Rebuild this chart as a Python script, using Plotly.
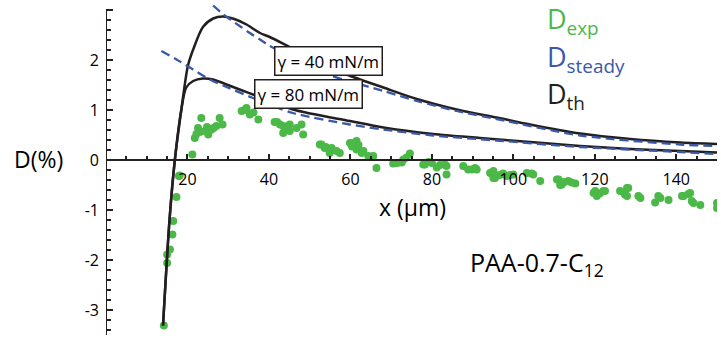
import plotly.graph_objects as go

# ---- data ----
th40_x = [14.0, 15.6, 16.9, 18.5, 20.1, 21.4, 23.8, 26.3, 28.7, 31.5, 34.5, 37.8, 40.2, 45.1, 52.0, 59.1, 68.1, 76.3, 86.1, 95.9, 104.1, 116.4, 128.7, 141.0, 150.0]
th40_y = [-3.31, -1.19, 0.0, 1.01, 1.88, 2.21, 2.66, 2.83, 2.87, 2.82, 2.71, 2.54, 2.46, 2.26, 1.98, 1.71, 1.45, 1.22, 1.01, 0.85, 0.71, 0.53, 0.42, 0.35, 0.32]

th80_x = [14.0, 15.6, 16.9, 18.5, 19.7, 21.4, 23.8, 26.3, 29.6, 32.8, 36.1, 45.9, 59.9, 68.1, 80.3, 91.8, 104.1, 116.4, 128.7, 141.0, 150.0]
th80_y = [-3.31, -1.19, 0.0, 1.01, 1.45, 1.58, 1.63, 1.61, 1.51, 1.41, 1.31, 1.01, 0.78, 0.65, 0.52, 0.44, 0.36, 0.28, 0.22, 0.18, 0.15]

st40_x = [26.3, 28.7, 32.8, 35.3, 37.8, 40.2, 54.2, 59.9, 68.1, 76.3, 86.1, 95.9, 116.4, 141.0, 150.0]
st40_y = [3.09, 2.92, 2.68, 2.54, 2.41, 2.28, 1.72, 1.57, 1.38, 1.18, 0.98, 0.82, 0.49, 0.31, 0.28]

st80_x = [13.6, 17.3, 21.4, 25.5, 29.6, 36.1, 45.9, 59.9, 68.1, 80.3, 95.9, 116.4, 141.0, 150.0]
st80_y = [2.18, 2.01, 1.81, 1.61, 1.46, 1.24, 0.94, 0.71, 0.61, 0.49, 0.39, 0.26, 0.16, 0.12]

exp_x = [14.2, 15.0, 15.0, 15.7, 16.3, 16.5, 17.3, 17.9, 18.1,
         21.2, 21.8, 22.6, 23.4, 24.3, 25.1, 25.9, 27.1, 27.9, 28.6, 22.2, 24.8, 26.4, 23.0, 25.5,
         33.3, 34.5, 35.3, 37.4, 34.0, 36.2,
         41.4, 42.7, 43.9, 45.1, 43.5, 46.8, 48.4, 48.0, 43.5, 45.1, 42.0, 44.3,
         52.5, 52.9, 53.7, 55.4, 54.9, 57.4, 55.0, 56.6, 54.0,
         59.9, 60.7, 61.5, 61.5, 62.8, 63.2, 64.4, 65.6, 66.4, 60.4, 62.0,
         70.5, 72.6, 73.0, 74.6, 71.5, 73.8,
         77.9, 78.3, 80.0, 81.2, 83.2, 83.6, 83.6, 79.2, 82.0,
         87.7, 88.9, 89.8, 90.6, 91.0,
         94.3, 95.1, 95.1, 95.5, 96.7, 98.4, 100.0, 97.5, 99.2,
         103.3, 104.5, 104.9, 106.6,
         110.7, 111.1, 111.5, 111.9, 113.5, 115.2, 112.5, 114.3,
         119.7, 120.1, 120.5, 122.1, 122.5, 121.2,
         126.2, 127.4, 127.9, 128.2, 127.9, 130.7, 131.2,
         134.8, 135.6, 136.1, 138.1,
         141.4, 141.8, 143.0, 143.4, 143.8, 144.2, 145.9, 150.0, 150.0]
exp_y = [-3.31, -2.06, -1.89, -1.79, -1.49, -1.22, -0.74, -0.32, -0.31,
         0.11, 0.44, 0.64, 0.84, 0.58, 0.51, 0.61, 0.68, 0.84, 0.71, 0.52, 0.66, 0.64, 0.56, 0.60,
         0.98, 1.04, 0.91, 0.81, 1.00, 0.95,
         0.76, 0.71, 0.64, 0.71, 0.54, 0.64, 0.51, 0.71, 0.68, 0.58, 0.76, 0.62,
         0.31, 0.31, 0.24, 0.24, 0.14, 0.14, 0.21, 0.18, 0.26,
         0.34, 0.34, 0.21, 0.38, 0.14, 0.18, 0.08, 0.08, -0.16, 0.27, 0.30,
         -0.07, -0.05, 0.01, 0.13, -0.06, 0.05,
         -0.09, -0.09, -0.06, -0.15, -0.09, -0.29, -0.12, -0.04, -0.10,
         -0.12, -0.19, -0.19, -0.16, -0.19,
         -0.26, -0.36, -0.22, -0.36, -0.30, -0.32, -0.29, -0.27, -0.30,
         -0.26, -0.27, -0.29, -0.42,
         -0.39, -0.39, -0.50, -0.49, -0.42, -0.47, -0.44, -0.45,
         -0.66, -0.62, -0.72, -0.62, -0.62, -0.67,
         -0.62, -0.69, -0.56, -0.56, -0.72, -0.72, -0.76,
         -0.85, -0.72, -0.76, -0.80,
         -0.72, -0.72, -0.68, -0.66, -0.82, -0.86, -0.90, -0.86, -0.96]

x_tick_step = 20
x_minor_step = 5
y_tick_step = 1
y_minor_step = 0.2

GREEN = "#4bb848"
BLUE = "#3a58a8"
BLACK = "#231f20"
FONT = "Open Sans"

fig = go.Figure()

fig.add_trace(go.Scatter(x=exp_x, y=exp_y, mode="markers",
                         marker=dict(color=GREEN, size=8, line=dict(width=0)),
                         showlegend=False))
for xs, ys in [(th40_x, th40_y), (th80_x, th80_y)]:
    fig.add_trace(go.Scatter(x=xs, y=ys, mode="lines",
                             line=dict(color=BLACK, width=2.5, shape="spline", smoothing=0.8),
                             showlegend=False))
for xs, ys in [(st40_x, st40_y), (st80_x, st80_y)]:
    fig.add_trace(go.Scatter(x=xs, y=ys, mode="lines",
                             line=dict(color=BLUE, width=2.3, dash="9px,5px", shape="spline", smoothing=0.8),
                             showlegend=False))

fig.update_layout(
    width=721, height=343,
    margin=dict(l=106, r=4, t=5, b=8, autoexpand=False),
    paper_bgcolor="white", plot_bgcolor="white",
    font=dict(family=FONT, color="black", size=16),
    xaxis=dict(range=[0, 150], anchor="free", position=3.5 / 6.6, automargin=False,
               showgrid=False, zeroline=False,
               showline=True, linecolor=BLACK, linewidth=2,
               tickmode="linear", tick0=0, dtick=x_tick_step,
               labelalias={"0": " "},
               ticks="inside", ticklen=5, tickwidth=1.5, tickcolor=BLACK,
               ticklabelstandoff=5,
               tickfont=dict(size=16, family=FONT),
               minor=dict(tick0=0, dtick=x_minor_step, ticks="inside",
                          ticklen=3, tickwidth=1.5, tickcolor=BLACK)),
    yaxis=dict(range=[-3.5, 3.1], automargin=False,
               showgrid=False, zeroline=False, showline=False,
               tickmode="linear", tick0=0, dtick=y_tick_step,
               labelalias={"\u22121": "-1", "\u22122": "-2", "\u22123": "-3"},
               ticks="inside", ticklen=7, tickwidth=1.5, tickcolor=BLACK,
               ticklabelstandoff=6,
               tickfont=dict(size=16, family=FONT),
               minor=dict(tick0=0, dtick=y_minor_step, ticks="inside",
                          ticklen=5, tickwidth=1.5, tickcolor=BLACK)),
)

fig.add_shape(type="line", xref="x", yref="y", x0=0, x1=0, y0=-3.5, y1=3,
              line=dict(color=BLACK, width=2))


def px_ann(text, px, py, size, color, xanchor="center"):
    fig.add_annotation(text=text, xref="paper", yref="paper",
                       x=(px - 106) / 611, y=(338 - py) / 330,
                       xanchor=xanchor, yanchor="middle", showarrow=False,
                       font=dict(size=size, color=color, family=FONT))


px_ann("x (µm)", 412, 210, 23, "black")
px_ann("D(%)", 38, 162, 23, "black")
px_ann("PAA-0.7-C<sub>12</sub>", 468, 266, 25, "black", xanchor="left")
px_ann("D<sub>exp</sub>", 545, 24, 27, GREEN, xanchor="left")
px_ann("D<sub>steady</sub>", 545, 61, 27, BLUE, xanchor="left")
px_ann("D<sub>th</sub>", 545, 98, 27, BLACK, xanchor="left")

for text, xc, yc in [("γ = 40 mN/m", 54.6, 1.99), ("γ = 80 mN/m", 49.8, 1.32)]:
    fig.add_annotation(text=text, x=xc, y=yc, xref="x", yref="y", showarrow=False,
                       font=dict(size=17, color="black", family=FONT),
                       bgcolor="white", bordercolor=BLACK, borderwidth=1.5, borderpad=2)

fig.write_html("out.html", config={"displayModeBar": False},
               post_script="document.body.style.margin='0';")
